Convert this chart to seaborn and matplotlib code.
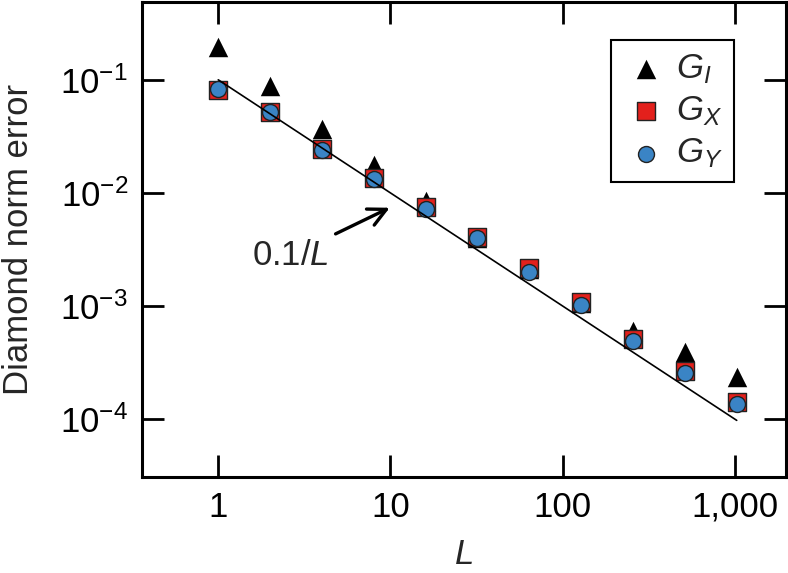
import matplotlib
matplotlib.use('Agg')
import matplotlib.pyplot as plt
import seaborn as sns
import numpy as np
import pandas as pd

#%% data
L = [1, 2, 4, 8, 16, 32, 64, 128, 256, 512, 1024]
err_GI = [0.196, 0.0885, 0.0365, 0.0178, 0.0085, 0.0040, 0.00214, 0.00107, 0.00060, 0.00039, 0.000234]
err_GX = [0.0816, 0.052, 0.0243, 0.0136, 0.00753, 0.00409, 0.00215, 0.00108, 0.00051, 0.000267, 0.000141]
err_GY = [0.083, 0.0516, 0.0240, 0.0133, 0.0072, 0.0040, 0.00202, 0.00102, 0.00049, 0.000257, 0.000136]
ref_L = [1, 1024]

#%% style
sns.set_style('ticks')
plt.rcParams['font.family'] = ['Liberation Sans', 'DejaVu Sans']
plt.rcParams['mathtext.fontset'] = 'custom'
plt.rcParams['mathtext.rm'] = 'Liberation Sans'
plt.rcParams['mathtext.it'] = 'Liberation Sans:italic'
plt.rcParams['mathtext.bf'] = 'Liberation Sans:bold'
fs = 25

fig = plt.figure(figsize=(7.88, 5.73), dpi=100)
ax = fig.add_axes([0.180, 0.168, 0.8175, 0.829])

df = pd.DataFrame({'L': L, 'GI': err_GI, 'GX': err_GX, 'GY': err_GY})

sns.scatterplot(data=df, x='L', y='GI', marker='^', s=14**2, color='black',
                edgecolor='black', linewidth=0, label='$G_I$', ax=ax, zorder=2)
sns.scatterplot(data=df, x='L', y='GX', marker='s', s=13**2, color='#e3201c',
                edgecolor='#222222', linewidth=1, label='$G_X$', ax=ax, zorder=3)
sns.scatterplot(data=df, x='L', y='GY', marker='o', s=11.5**2, color='#3a84c5',
                edgecolor='#222222', linewidth=1, label='$G_Y$', ax=ax, zorder=4)
# reference line 0.1/L
ref = pd.DataFrame({'L': ref_L, 'y': [0.1 / l for l in ref_L]})
sns.lineplot(data=ref, x='L', y='y', color='black', linewidth=1.2, ax=ax, zorder=5)

ax.set_xscale('log')
ax.set_yscale('log')
ax.set_xlim(0.36, 1980)
ax.set_ylim(3.1e-5, 0.49)

ax.set_xticks([1, 10, 100, 1000])
ax.set_xticklabels(['1', '10', '100', '1,000'])
ax.set_yticks([1e-4, 1e-3, 1e-2, 1e-1])
ax.set_yticklabels(['$10^{\u22124}$', '$10^{\u22123}$', '$10^{\u22122}$', '$10^{\u22121}$'])
ax.minorticks_off()
ax.tick_params(which='major', direction='in', length=16, width=2, labelsize=fs,
               top=True, right=True, pad=10, colors='black')
for sp in ax.spines.values():
    sp.set_linewidth(2.2)
    sp.set_color('black')

ax.set_xlabel('$L$', fontsize=fs, labelpad=10)
ax.set_ylabel('Diamond norm error', fontsize=fs, labelpad=18)

# arrow annotation
ax.annotate('0.1/$L$', xy=(9.9, 0.0074), xytext=(2.64, 0.0028),
            ha='center', va='center', fontsize=fs,
            arrowprops=dict(arrowstyle='->', lw=2.4, color='black', mutation_scale=32,
                            shrinkA=3, shrinkB=0))

# legend
leg = ax.legend(loc='upper right', bbox_to_anchor=(0.92, 0.92), fontsize=fs,
                frameon=True, fancybox=False, edgecolor='black', framealpha=1,
                handletextpad=0.2, labelspacing=0.25, borderpad=0.35,
                handlelength=1.3, borderaxespad=0)
leg.get_frame().set_linewidth(1.5)

fig.savefig('out.png', dpi=100)
